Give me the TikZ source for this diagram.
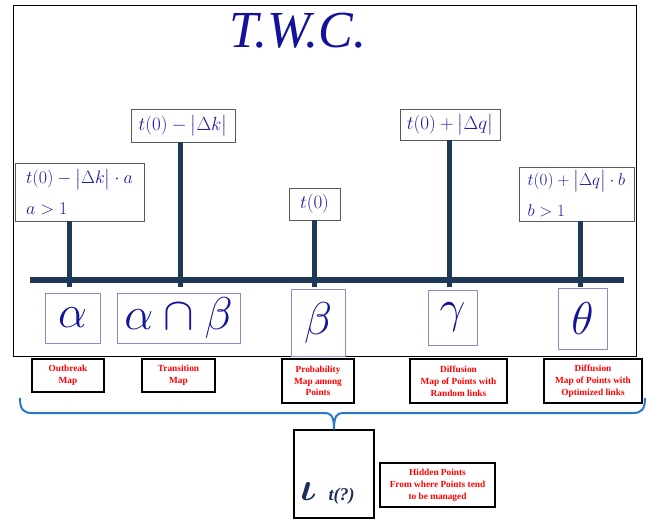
\RequirePackage{fix-cm}
\documentclass[tikz,border=0pt]{standalone}
\usepackage{amsmath}
\usepackage{fontspec}
\setmainfont{Liberation Serif}
\definecolor{navy}{HTML}{12129A}
\definecolor{mblue}{HTML}{1E1EA4}
\definecolor{barc}{HTML}{1E3858}
\definecolor{lbox}{HTML}{8A8AD0}
\definecolor{braceblue}{HTML}{2B78C8}
\definecolor{dnavy}{HTML}{1C2C5C}
\begin{document}
\begin{tikzpicture}[x=1pt,y=-1pt,
  topbox/.style={draw=black!65, line width=0.8pt, fill=white, text=mblue, inner sep=2pt,
    font=\fontsize{19}{22}\selectfont},
  greekbox/.style={draw=lbox, line width=0.8pt, text=navy, inner sep=0pt,
    font=\fontsize{46}{50}\selectfont},
  lab/.style={draw=black, line width=1.3pt, text=red, align=center, inner sep=1pt,
    font=\fontsize{9.3}{11.8}\selectfont\bfseries},
  stembar/.style={draw=barc, line width=5pt},
  bracepath/.style={draw=braceblue, line width=2pt}]
\useasboundingbox (0,0) rectangle (648,519);
% frame and title
\node[draw, line width=0.8pt, minimum width=623pt, minimum height=351pt, inner sep=0pt] (frame) at (324.5,180.5) {};
\node[text=navy, inner sep=0pt, font=\fontsize{52}{54}\selectfont\itshape] (title) at (298,31) {T.W.C.};
% top formula boxes
\node[topbox, minimum width=104pt, minimum height=33pt] (bk) at (183,125.5) {$t(0)-\bigl|\Delta k\bigr|$};
\node[topbox, minimum width=100pt, minimum height=31pt] (bq) at (450,124.5) {$t(0)+\bigl|\Delta q\bigr|$};
\node[topbox, minimum width=129pt, minimum height=58pt, align=left, inner xsep=3pt, font=\fontsize{18}{31}\selectfont] (ba) at (79.5,192) {$t(0)-\bigl|\Delta k\bigr|\cdot a$\\$a>1$};
\node[topbox, minimum width=51pt, minimum height=32pt] (b0) at (314.5,204) {$t(0)$};
\node[topbox, minimum width=115pt, minimum height=54pt, align=left, inner xsep=3pt, font=\fontsize{17}{31}\selectfont] (bb) at (576.5,194) {$t(0)+\bigl|\Delta q\bigr|\cdot b$\\$b>1$};
% stems and bar
\coordinate (s1) at (69,287);
\coordinate (s2) at (180,287);
\coordinate (s3) at (314,287);
\coordinate (s4) at (449,287);
\coordinate (s5) at (580,287);
\coordinate (barL) at (30,280);
\coordinate (barR) at (624,280);
\draw[stembar] (s1) -- (s1 |- ba.south);
\draw[stembar] (s2) -- (s2 |- bk.south);
\draw[stembar] (s3) -- (s3 |- b0.south);
\draw[stembar] (s4) -- (s4 |- bq.south);
\draw[stembar] (s5) -- (s5 |- bb.south);
\draw[stembar, line width=6pt] (barL) -- (barR);
% greek boxes
\node[greekbox, minimum width=55pt, minimum height=50pt] (ga) at (72.5,318) {$\alpha$};
\node[greekbox, minimum width=123pt, minimum height=50pt] (gab) at (178.5,318) {$\alpha\cap\beta$};
\node[greekbox, minimum width=54pt, minimum height=67pt] (gb) at (318,322.5) {$\beta$};
\node[greekbox, minimum width=49pt, minimum height=55pt] (gg) at (452.5,317.5) {$\gamma$};
\node[greekbox, minimum width=49pt, minimum height=61pt] (gt) at (582.5,318.5) {$\theta$};
% red labels
\node[lab, minimum width=72pt, minimum height=33pt] (l1) at (68,375.5) {Outbreak\\Map};
\node[lab, minimum width=73pt, minimum height=33pt] (l2) at (178.5,375.5) {Transition\\Map};
\node[lab, minimum width=72pt, minimum height=44pt] (l3) at (318,381) {Probability\\Map among\\Points};
\node[lab, minimum width=97pt, minimum height=44pt] (l4) at (458.5,381) {Diffusion\\Map of Points with\\Random links};
\node[lab, minimum width=98pt, minimum height=44pt] (l5) at (593,381) {Diffusion\\Map of Points with\\Optimized links};
% bottom box
\node[draw, line width=1.3pt, minimum width=80pt, minimum height=88pt, inner sep=0pt] (bt) at (334,474) {};
\node[anchor=base west, inner sep=0pt, text=dnavy] (btt) at (300,500)
  {{\fontsize{40}{40}\selectfont\boldmath$\iota$}\hspace{12pt}{\fontsize{18}{20}\selectfont\bfseries\itshape t(?)}};
\node[lab, minimum width=115pt, minimum height=44pt] (hid) at (437.5,485) {Hidden Points\\From where Points tend\\to be managed};
% brace
\coordinate (brL) at (20,398);
\coordinate (brR) at (645,398);
\coordinate (brT) at (bt.north);
\draw[bracepath] (brL) .. controls (20,409) and (23,413) .. (32,413) -- (325,413)
  .. controls (331,413) and (334,416) .. (brT);
\draw[bracepath] (brT) .. controls (334,416) and (337,413) .. (343,413) -- (633,413)
  .. controls (642,413) and (645,409) .. (brR);
\end{tikzpicture}
\end{document}
